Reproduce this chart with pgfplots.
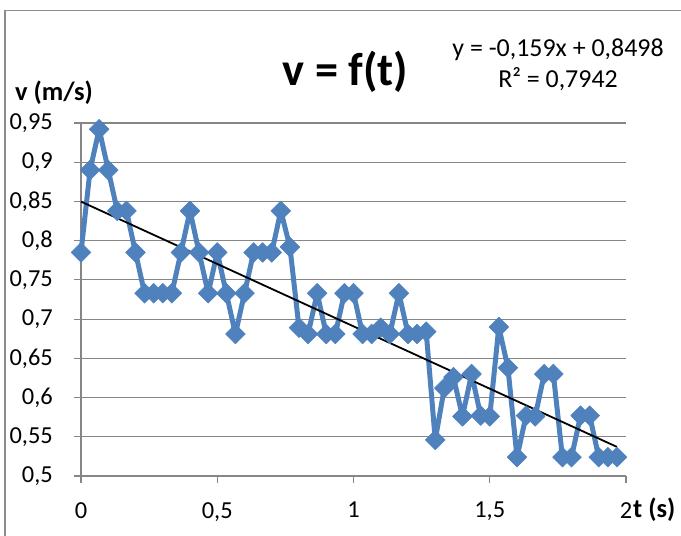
\documentclass[border=0pt]{standalone}
\usepackage{fontspec}
\setmainfont{Carlito}
\usepackage{pgfplots}
\pgfplotsset{compat=1.18}

\definecolor{serieblue}{HTML}{4F81BD}
\definecolor{gridgray}{HTML}{868686}
\definecolor{framegray}{HTML}{8C8C8C}

% v(t), t in s, v in m/s
\pgfplotstableread{
t       v
0       0.785
0.0333  0.890
0.0667  0.942
0.1     0.890
0.1333  0.838
0.1667  0.838
0.2     0.785
0.2333  0.733
0.2667  0.733
0.3     0.733
0.3333  0.733
0.3667  0.785
0.4     0.838
0.4333  0.785
0.4667  0.733
0.5     0.785
0.5333  0.733
0.5667  0.681
0.6     0.733
0.6333  0.785
0.6667  0.785
0.7     0.785
0.7333  0.838
0.7667  0.792
0.8     0.689
0.8333  0.681
0.8667  0.733
0.9     0.681
0.9333  0.681
0.9667  0.733
1       0.733
1.0333  0.681
1.0667  0.681
1.1     0.689
1.1333  0.681
1.1667  0.733
1.2     0.681
1.2333  0.681
1.2667  0.684
1.3     0.546
1.3333  0.612
1.3667  0.626
1.4     0.576
1.4333  0.630
1.4667  0.577
1.5     0.576
1.5333  0.690
1.5667  0.638
1.6     0.524
1.6333  0.577
1.6667  0.576
1.7     0.630
1.7333  0.630
1.7667  0.524
1.8     0.524
1.8333  0.577
1.8667  0.577
1.9     0.524
1.9333  0.524
1.9667  0.524
}\speed

\begin{document}
\begin{tikzpicture}
\begin{axis}[
    scale only axis,
    width=545bp, height=353bp,
    xmin=0, xmax=2,
    ymin=0.5, ymax=0.95,
    xtick={0,0.5,1,1.5,2},
    ytick={0.5,0.55,0.6,0.65,0.7,0.75,0.8,0.85,0.9,0.95},
    /pgf/number format/use comma,
    /pgf/number format/assume math mode=true,
    axis lines=left,
    axis line style={-, gridgray, line width=1.2bp},
    tick align=outside,
    major tick length=7bp,
    tick style={gridgray, line width=1.2bp},
    ymajorgrids=true,
    grid style={gridgray, line width=1.2bp},
    ticklabel style={font=\fontsize{24.5}{28}\selectfont, inner sep=0pt},
    xticklabel style={anchor=north, yshift=-19bp},
    yticklabel style={anchor=east, xshift=-21bp},
    clip=false,
    title={v = f(t)},
    every axis title/.style={at={(axis description cs:0.5,1)}, anchor=center,
      xshift=-8bp, yshift=51bp, inner sep=0pt,
      font=\fontsize{46.5}{50}\selectfont\bfseries},
    xlabel={t (s)},
    every axis x label/.style={at={(axis description cs:1,0)}, anchor=west,
      xshift=7bp, yshift=-34bp, inner sep=0pt,
      font=\fontsize{26.5}{30}\selectfont\bfseries},
    ylabel={v (m/s)},
    every axis y label/.style={at={(axis description cs:0,1)}, anchor=west,
      xshift=-66bp, yshift=30bp, inner sep=0pt,
      font=\fontsize{26.5}{30}\selectfont\bfseries},
  ]
  \addplot[serieblue, line width=5bp, line join=round,
    mark=square*, mark size=7bp,
    mark options={rotate=45, solid, fill=serieblue, draw=serieblue, line width=0.5bp}]
    table[x=t, y=v] {\speed};

  % linear trend line y = -0,159x + 0,8498
  \addplot[black, line width=1.8bp] coordinates {(0,0.8498) (1.9667,0.5371)};
\end{axis}

\node[align=center, inner sep=0pt, font=\fontsize{26}{31}\selectfont]
  at (477bp,411bp) {y = -0,159x + 0,8498\\R² = 0,7942};

\draw[framegray, line width=1.6bp] (-76bp,-70bp) -- (-76bp,465.3bp) -- (610bp,465.3bp);

\pgfresetboundingbox
\useasboundingbox (-81bp,-60bp) rectangle (600bp,476bp);
\end{tikzpicture}
\end{document}
